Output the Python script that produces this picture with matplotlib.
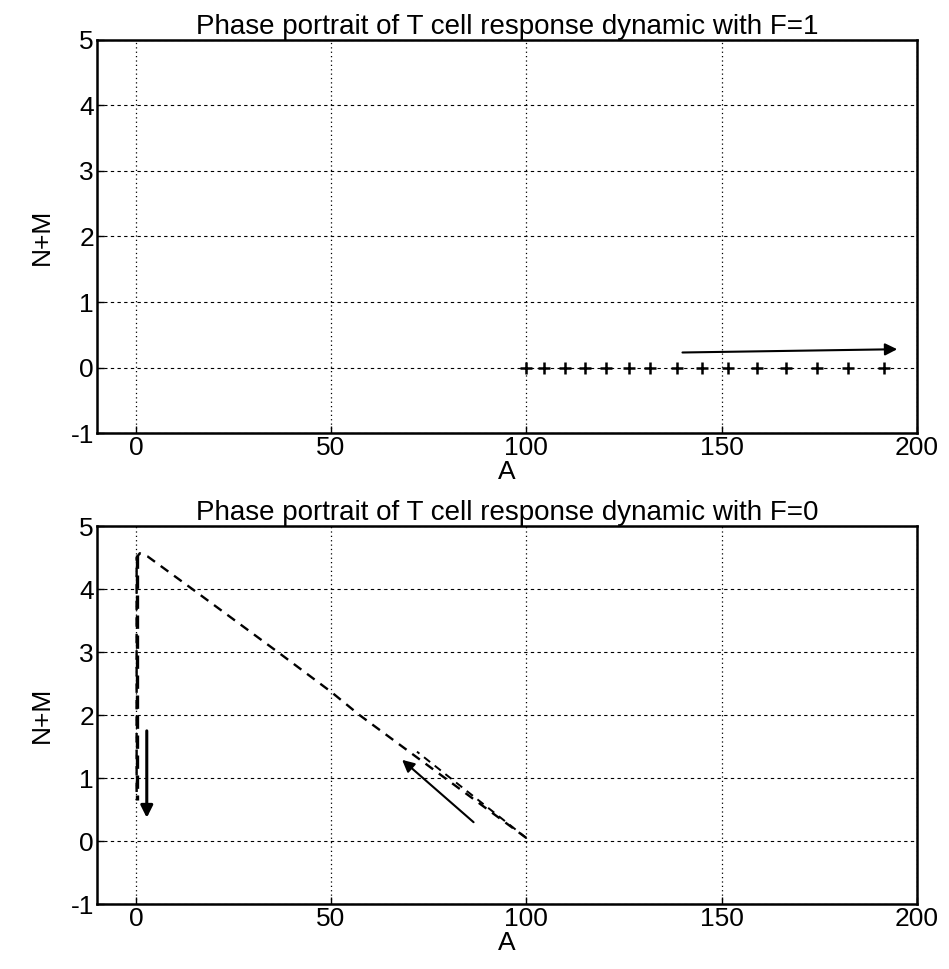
import matplotlib
matplotlib.use('Agg')
import matplotlib.pyplot as plt

plt.rcParams['font.family'] = ['Liberation Sans', 'DejaVu Sans']
plt.rcParams['axes.unicode_minus'] = False

# F=1: trajectory samples (A, N+M)
A_F1 = [100, 104.6, 109.9, 115.1, 120.3, 126.3, 131.8, 138.5, 145.1,
        151.7, 159.1, 166.5, 174.4, 182.5, 191.5]
NM_F1 = [0] * len(A_F1)

# F=0: trajectory (A, N+M)
A_F0 = [100, 57.3, 50, 36.4, 14.5, 3, 1, 0.2, 0.2]
NM_F0 = [0.05, 2.0, 2.37, 3.0, 4.0, 4.52, 4.57, 4.5, 0.65]
# second branch near the start of F=0 trajectory
A_F0b = [100, 72]
NM_F0b = [0.05, 1.42]

# direction arrows: (start, end)
ARROW_F1 = ((140, 0.23), (195, 0.28))
ARROWS_F0 = [((2.8, 1.75), (2.8, 0.37)), ((86.5, 0.3), (68.2, 1.29))]

XTICKS = [0, 50, 100, 150, 200]
YTICKS = [-1, 0, 1, 2, 3, 4, 5]
FS = 19


def style(ax, title):
    ax.set_xlim(-10, 200)
    ax.set_ylim(-1, 5)
    ax.set_xticks(XTICKS)
    ax.set_yticks(YTICKS)
    ax.tick_params(direction='in', length=5, width=1, labelsize=FS,
                   top=False, right=False, pad=2)
    for sp in ax.spines.values():
        sp.set_linewidth(1.8)
    ax.xaxis.grid(True, color='black', linestyle=(0, (1, 2.5)), linewidth=0.9)
    ax.yaxis.grid(True, color='black', linestyle=(0, (3, 3)), linewidth=0.8)
    ax.set_axisbelow(True)
    ax.set_title(title, fontsize=FS + 1, pad=0)
    ax.set_xlabel('A', fontsize=FS, labelpad=0)
    ax.set_ylabel('N+M', fontsize=FS, labelpad=12)


def arrow(ax, start, end, lw=1.5):
    ax.annotate('', xy=end, xytext=start,
                arrowprops=dict(arrowstyle='-|>', color='black', lw=lw,
                                mutation_scale=18, shrinkA=0, shrinkB=0))


fig = plt.figure(figsize=(9.49, 9.69), dpi=100)
ax1 = fig.add_axes([0.102, 0.553, 0.864, 0.406])
ax2 = fig.add_axes([0.102, 0.067, 0.864, 0.390])

style(ax1, 'Phase portrait of T cell response dynamic with F=1')
ax1.plot(A_F1, NM_F1, linestyle='none', marker='+', color='black',
         markersize=9, markeredgewidth=1.8)
arrow(ax1, *ARROW_F1)

style(ax2, 'Phase portrait of T cell response dynamic with F=0')
ax2.plot(A_F0, NM_F0, color='black', linestyle=(0, (4, 3)), linewidth=1.7)
ax2.plot(A_F0b, NM_F0b, color='black', linestyle=(0, (4, 3)), linewidth=1.4)
ax2.plot([0.2, 0.2], [4.55, 0.65], color='black', linestyle=(0, (4, 2)),
         linewidth=2.4)
for s, e in ARROWS_F0:
    arrow(ax2, s, e, lw=2.2 if s[0] < 10 else 1.5)

fig.savefig('out.png', dpi=100)
